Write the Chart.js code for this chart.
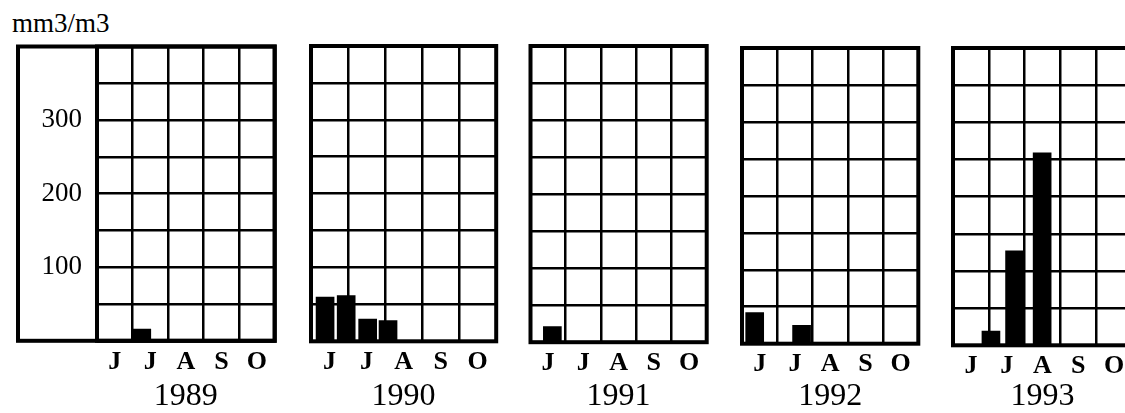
<!DOCTYPE html>
<html>
<head>
<meta charset="utf-8">
<script src="https://cdn.jsdelivr.net/npm/chart.js@4.4.1/dist/chart.umd.min.js"></script>
<style>
  html, body { margin: 0; padding: 0; width: 1125px; height: 413px; overflow: hidden; background: #fff; }
  .panel { position: absolute; top: 0; }
  #unit { position: absolute; left: 12px; top: 10px; font: 27px/27px "Liberation Serif", "Times New Roman", serif; color: #000; white-space: nowrap; }
</style>
</head>
<body>
<div id="unit">mm3/m3</div>
<div id="panels"></div>
<script>
// Season labels and years
const years = ['1989', '1990', '1991', '1992', '1993'];
const monthLabels = ['J', 'J', 'A', 'S', 'O'];

// Sampling dates, in months elapsed since 1 June, and measured biovolume (mm3/m3)
const sampleMonths1989 = [1.26];
const volume1989 = [16];
const sampleMonths1990 = [0.38, 0.95, 1.53, 2.08];
const volume1990 = [60, 62, 30, 28];
const sampleMonths1991 = [0.62];
const volume1991 = [21];
const sampleMonths1992 = [0.36, 1.69];
const volume1992 = [42, 25];
const sampleMonths1993 = [1.06, 1.72, 2.49];
const volume1993 = [19, 127, 259];

// Value axis
const yTickLabels = [100, 200, 300];
const yMax = 400;
const yStep = 50;

const seriesByYear = [
  [sampleMonths1989, volume1989],
  [sampleMonths1990, volume1990],
  [sampleMonths1991, volume1991],
  [sampleMonths1992, volume1992],
  [sampleMonths1993, volume1993]
];

// Plot boxes on the page (px): left, right, top, bottom
const frames = [
  { left: 97,    right: 274.7,  top: 46.5, bottom: 340.8 },
  { left: 311,   right: 496.2,  top: 46,   bottom: 341.3 },
  { left: 530.5, right: 706.7,  top: 46,   bottom: 342.2 },
  { left: 742,   right: 918.3,  top: 48,   bottom: 343.7 },
  { left: 953,   right: 1132,   top: 48,   bottom: 345.3 }
];

const SERIF = '"Liberation Serif", "Times New Roman", serif';
const PAGE_H = 413;
const AXIS_W = 79;   // width of the labelled value axis on the first panel

// Heavy outline round each plot (and round the value-axis box on the first one)
const framePlugin = {
  id: 'frame',
  afterDatasetsDraw(chart, args, opts) {
    const { ctx, chartArea: a } = chart;
    ctx.save();
    ctx.strokeStyle = '#000';
    ctx.lineWidth = 4;
    ctx.strokeRect(a.left, a.top, a.right - a.left, a.bottom - a.top);
    if (opts.axisBox) {
      const y = chart.scales.y;
      ctx.strokeRect(y.left, a.top, a.right - y.left, a.bottom - a.top);
    }
    ctx.restore();
  }
};

const host = document.getElementById('panels');

years.forEach((year, i) => {
  const f = frames[i];
  const first = i === 0;
  const axisW = first ? AXIS_W : 0;
  const canvasLeft = first ? 0 : Math.floor(f.left - 20);
  const canvasWidth = Math.ceil(f.right + 20 - canvasLeft);

  const canvas = document.createElement('canvas');
  canvas.className = 'panel';
  canvas.width = canvasWidth;
  canvas.height = PAGE_H;
  canvas.style.left = canvasLeft + 'px';
  canvas.style.width = canvasWidth + 'px';
  canvas.style.height = PAGE_H + 'px';
  host.appendChild(canvas);

  const [months, values] = seriesByYear[i];
  const xAxisH = PAGE_H - f.bottom;

  new Chart(canvas, {
    type: 'bar',
    data: {
      datasets: [{
        data: months.map((m, k) => ({ x: m, y: values[k] })),
        xAxisID: 'xb',
        yAxisID: 'y',
        backgroundColor: '#000',
        borderWidth: 0,
        barThickness: 18
      }]
    },
    options: {
      responsive: false,
      animation: false,
      devicePixelRatio: 1,
      layout: {
        padding: {
          left: f.left - axisW - canvasLeft,
          right: canvasWidth - (f.right - canvasLeft),
          top: f.top,
          bottom: 0
        }
      },
      plugins: {
        legend: { display: false },
        tooltip: { enabled: false },
        frame: { axisBox: first }
      },
      scales: {
        x: {
          type: 'category',
          labels: monthLabels,
          position: 'bottom',
          offset: true,
          grid: { offset: true, color: '#000', lineWidth: 2.5, drawTicks: false },
          border: { display: false },
          ticks: {
            color: '#000',
            autoSkip: false,
            maxRotation: 0,
            padding: 8,
            font: { family: SERIF, size: 26, weight: 'bold', lineHeight: 1 }
          },
          title: {
            display: true,
            text: year,
            color: '#000',
            padding: 0,
            font: { family: SERIF, size: 32, lineHeight: 1 }
          },
          afterFit: (s) => { s.height = xAxisH; }
        },
        xb: {
          type: 'linear',
          display: false,
          offset: false,
          min: 0,
          max: monthLabels.length
        },
        y: {
          type: 'linear',
          position: 'left',
          min: 0,
          max: yMax,
          grid: { color: '#000', lineWidth: 2.5, drawTicks: false },
          border: { display: false },
          ticks: {
            display: first,
            stepSize: yStep,
            padding: 15,
            color: '#000',
            font: { family: SERIF, size: 27, lineHeight: 1 },
            callback: (v) => yTickLabels.includes(v) ? String(v) : ''
          },
          afterFit: (s) => { s.width = axisW; }
        }
      }
    },
    plugins: [framePlugin]
  });
});
</script>
</body>
</html>
